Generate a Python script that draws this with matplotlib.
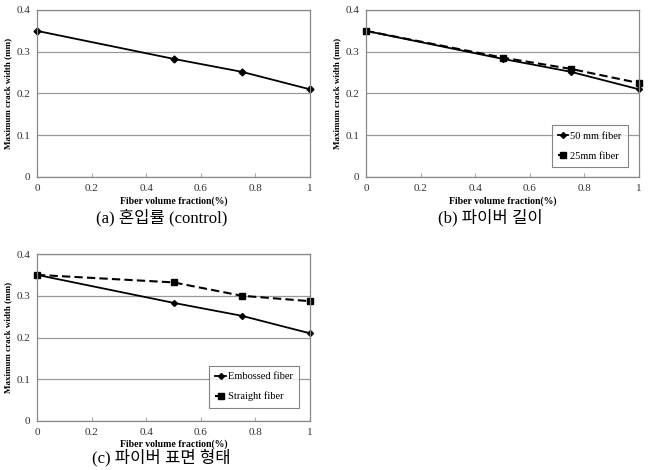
import matplotlib
matplotlib.use("Agg")
import matplotlib.pyplot as plt

x = [0, 0.5, 0.75, 1]
control = [0.35, 0.283, 0.252, 0.21]
len50 = [0.35, 0.283, 0.252, 0.21]
len25 = [0.35, 0.286, 0.259, 0.225]
embossed = [0.35, 0.283, 0.252, 0.21]
straight = [0.35, 0.332, 0.300, 0.287]
xticks = [0, 0.2, 0.4, 0.6, 0.8, 1]
xticklabels = ["0", "0.2", "0.4", "0.6", "0.8", "1"]
yticks = [0, 0.1, 0.2, 0.3, 0.4]
yticklabels = ["0", "0.1", "0.2", "0.3", "0.4"]
captions = ["(a) 혼입률 (control)", "(b) 파이버 길이", "(c) 파이버 표면 형태"]

plt.rcParams['font.family'] = ['Liberation Serif', 'Noto Sans CJK KR', 'DejaVu Sans']

fig = plt.figure(figsize=(6.49, 4.70), dpi=100)
W, H = 649, 470

def make_ax(l, r, t, b):
    return fig.add_axes([l / W, 1 - b / H, (r - l) / W, (b - t) / H])

def style(ax, l, r, xl_y, cap_y, caption):
    ax.set_xlim(0, 1)
    ax.set_ylim(0, 0.4)
    ax.set_xticks(xticks)
    ax.set_xticklabels(xticklabels, fontsize=8, color='#333333')
    ax.set_yticks(yticks)
    ax.set_yticklabels(yticklabels, fontsize=8, color='#333333')
    ax.tick_params(axis='x', direction='in', length=3, color='#aaaaaa', pad=5)
    ax.tick_params(axis='y', length=0, pad=5)
    ax.yaxis.grid(True, color='#999999', lw=0.9)
    ax.set_axisbelow(True)
    for s in ax.spines.values():
        s.set_color('#888888')
        s.set_linewidth(0.9)
    ax.set_ylabel("Maximum crack width (mm)", fontsize=6.5, fontweight='bold', labelpad=3)
    fig.text((l + r) / 2 / W, 1 - xl_y / H, "Fiber volume fraction(%)", ha='center', va='center',
             fontsize=7, fontweight='bold')
    fig.text(((l + r) / 2 - 12) / W, 1 - cap_y / H, caption, ha='center', va='center', fontsize=12)

axa = make_ax(37, 310, 10, 177)
axa.plot(x, control, color='black', lw=1.3, marker='D', ms=3.5, clip_on=False)
style(axa, 37, 310, 201, 218, captions[0])

axb = make_ax(366, 639, 10, 177)
axb.plot(x, len50, color='black', lw=1.3, marker='D', ms=3, label="50 mm fiber", clip_on=False)
axb.plot(x, len25, color='black', lw=1.5, ls=(0, (4, 2)), marker='s', ms=5, label="25mm fiber", clip_on=False)
style(axb, 366, 639, 201, 218, captions[1])
leg = axb.legend(loc='lower right', bbox_to_anchor=(0.96, 0.06), fontsize=7.5, frameon=True,
                 fancybox=False, edgecolor='#666666', handlelength=1.0, labelspacing=1.0,
                 borderpad=0.6, handletextpad=0.2, borderaxespad=0)
leg.get_frame().set_linewidth(0.8)

axc = make_ax(37, 310, 254, 421)
axc.plot(x, embossed, color='black', lw=1.3, marker='D', ms=3, label="Embossed fiber", clip_on=False)
axc.plot(x, straight, color='black', lw=1.5, ls=(0, (4, 2)), marker='s', ms=5, label="Straight fiber", clip_on=False)
style(axc, 37, 310, 444, 458, captions[2])
leg = axc.legend(loc='lower right', bbox_to_anchor=(0.96, 0.08), fontsize=7.5, frameon=True,
                 fancybox=False, edgecolor='#666666', handlelength=1.0, labelspacing=1.0,
                 borderpad=0.6, handletextpad=0.2, borderaxespad=0)
leg.get_frame().set_linewidth(0.8)

fig.savefig("out.png", dpi=100)
